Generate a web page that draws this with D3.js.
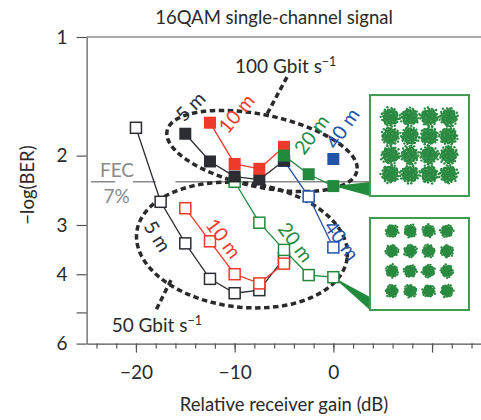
<!DOCTYPE html>
<html><head><meta charset="utf-8">
<script src="https://cdn.jsdelivr.net/npm/d3@7"></script>
<style>body{margin:0;background:#fff} svg{display:block} text{font-family:Lato,"Open Sans",sans-serif}</style>
</head><body><svg id="c" width="481" height="420"></svg>
<script>
// ---- data (gain in dB, value = -log(BER)) ----
const gain5_50 = [-20, -17.5, -15, -12.5, -10, -7.5, -5];
const ber5_50  = [1.70, 2.62, 3.34, 4.11, 4.47, 4.39, 3.64];
const gain10_50 = [-15, -12.5, -10, -7.5, -5];
const ber10_50  = [2.72, 3.30, 4.00, 4.22, 3.76];
const gain20_50 = [-10, -7.5, -5, -2.5, 0];
const ber20_50  = [2.33, 2.96, 3.47, 4.02, 4.07];
const gain40_50 = [-5, -2.5, 0];
const ber40_50  = [2.06, 2.54, 3.42];
const gain5_100 = [-15, -12.5, -10, -7.5, -5];
const ber5_100  = [1.76, 2.07, 2.26, 2.30, 2.06];
const gain10_100 = [-12.5, -10, -7.5, -5];
const ber10_100  = [1.65, 2.10, 2.16, 1.90];
const gain20_100 = [-5, -2.5, 0];
const ber20_100  = [2.00, 2.23, 2.39];
const gain40_100 = [0];
const ber40_100  = [2.04];
const fecLevel = 2.33;
const xMajorTicks = [-20, -10, 0, 10];
const xMajorLabels = ["\u221220", "\u221210", "0", ""];
const xMinorTicks = d3.range(-24, 15, 2);
const yTicks = [1, 2, 3, 4, 5, 6];
const yTickLabels = ["1", "2", "3", "4", "", "6"];
const constLevels = [-3, -1, 1, 3];

// ---- styles ----
const COL = {dark:"#2b2d33", red:"#ee3a2a", green:"#228a3c", blue:"#2253a8", axis:"#555", text:"#2a2a2a", fec:"#8a8a8a", box:"#3d9c52", dots:"#2a8a40"};

const svg = d3.select("#c");
const x = d3.scaleLinear().domain([-25, 15]).range([86.6, 481.4]);
const y = d3.scaleLog().domain([1, 6]).range([37, 343.6]);

// title
svg.append("text").attr("x", 274).attr("y", 24).attr("text-anchor","middle")
  .attr("font-size", 18.5).attr("fill", COL.text).text("16QAM single-channel signal");

// axes
const gy = svg.append("g").attr("transform", `translate(${x(-25)},0)`)
  .call(d3.axisLeft(y).tickValues(yTicks).tickFormat((d,i)=>yTickLabels[i]).tickSize(10).tickSizeOuter(0).tickPadding(9));
const gxm = svg.append("g").attr("transform", `translate(0,${y(6)})`)
  .call(d3.axisBottom(x).tickValues(xMinorTicks).tickFormat("").tickSize(5).tickSizeOuter(0));
const gxM = svg.append("g").attr("transform", `translate(0,${y(6)})`)
  .call(d3.axisBottom(x).tickValues(xMajorTicks).tickFormat((d,i)=>xMajorLabels[i]).tickSize(9).tickSizeOuter(0).tickPadding(13));
gxM.select(".domain").remove();
[gy, gxm, gxM].forEach(g => {
  g.selectAll("path,line").attr("stroke", COL.axis).attr("stroke-width", 1.2);
  g.selectAll("text").attr("font-size", 19).attr("fill", COL.text).attr("font-family","Lato");
});
svg.append("line").attr("x1", x(-25)).attr("x2", x(15)).attr("y1", y(1)).attr("y2", y(1))
  .attr("stroke", COL.axis).attr("stroke-width", 1.2);

svg.append("text").attr("x", (x(-25)+x(15))/2).attr("y", 411).attr("text-anchor","middle")
  .attr("font-size", 18.5).attr("fill", COL.text).text("Relative receiver gain (dB)");
svg.append("text").attr("transform", `translate(34,185) rotate(-90)`).attr("text-anchor","middle")
  .attr("font-size", 18.5).attr("fill", COL.text).text("\u2212log(BER)");

// FEC line
const fecSegs = [[-24.56, -22.1], [-20.3, -18.0], [-16.0, 3.71]];
fecSegs.forEach(s => svg.append("line").attr("x1", x(s[0])).attr("x2", x(s[1]))
  .attr("y1", y(fecLevel)).attr("y2", y(fecLevel)).attr("stroke", COL.fec).attr("stroke-width", 1.5));
svg.append("text").attr("x", x(-21.92)).attr("y", y(2.266)).attr("text-anchor","middle")
  .attr("font-size", 19).attr("fill", COL.fec).text("FEC");
svg.append("text").attr("x", x(-21.97)).attr("y", y(2.638)).attr("text-anchor","middle")
  .attr("font-size", 19).attr("fill", COL.fec).text("7%");

// dashed ellipses (center in data units, semi-axes in dB / decades, tilt in degrees)
const ellipses = [
  {cx:-7.23, cv:1.947, aDb:9.83, bDec:0.0914, tilt:12},
  {cx:-9.26, cv:3.373, aDb:10.74, bDec:0.1574, tilt:7}
];
ellipses.forEach(e => {
  const px = x(e.cx), py = y(e.cv);
  const a = x(e.cx + e.aDb) - px, b = y(e.cv * Math.pow(10, e.bDec)) - py;
  const th = e.tilt * Math.PI / 180;
  const pts = d3.range(0, 360, 3).map(t => {
    const r = t * Math.PI / 180;
    return [px + a*Math.cos(r)*Math.cos(th) - b*Math.sin(r)*Math.sin(th),
            py + a*Math.cos(r)*Math.sin(th) + b*Math.sin(r)*Math.cos(th)];
  });
  svg.append("path").attr("d", d3.line().curve(d3.curveLinearClosed)(pts))
    .attr("fill","none").attr("stroke","#2a2a2a").attr("stroke-width",3.5).attr("stroke-dasharray","5.5,3.5");
});
const pointers = [[[-4.70,1.264],[-6.82,1.586]], [[-16.45,4.14],[-18.07,4.99]]];
pointers.forEach(p => svg.append("line").attr("x1", x(p[0][0])).attr("y1", y(p[0][1]))
  .attr("x2", x(p[1][0])).attr("y2", y(p[1][1])).attr("stroke","#2a2a2a").attr("stroke-width",3.5)
  .attr("stroke-dasharray","5.5,3.5"));

// rate labels
function rateLabel(gx, v, main){
  const t = svg.append("text").attr("x", x(gx)).attr("y", y(v)).attr("font-size", 19).attr("fill", COL.text);
  t.append("tspan").text(main);
  t.append("tspan").attr("dy", -7).attr("font-size", 12.5).text("\u22121");
}
rateLabel(-9.96, 1.236, "100 Gbit s");
rateLabel(-22.46, 5.60, "50 Gbit s");

// inset boxes and wedges
const boxes = [
  {x0:3.71, x1:13.74, v0:1.404, v1:2.532, R:8.5, N:110, xd:[-5.1,5.1], yd:[5.3,-5.3]},
  {x0:3.71, x1:13.74, v0:2.88, v1:4.93, R:5.8, N:70, xd:[-5.4,5.4], yd:[4.3,-4.9]}
];
const wedges = [
  {apex:[0, 2.39], b0:2.334, b1:2.532},
  {apex:[0, 4.07], b0:4.57, b1:4.93}
];
wedges.forEach(w => svg.append("path")
  .attr("d", d3.line()([[x(w.apex[0]), y(w.apex[1])], [x(3.71), y(w.b0)], [x(3.71), y(w.b1)]]) + "Z")
  .attr("fill", COL.green));

// series
const series = [
  {g:gain5_50, v:ber5_50, c:COL.dark, f:false},
  {g:gain10_50, v:ber10_50, c:COL.red, f:false},
  {g:gain20_50, v:ber20_50, c:COL.green, f:false},
  {g:gain40_50, v:ber40_50, c:COL.blue, f:false},
  {g:gain5_100, v:ber5_100, c:COL.dark, f:true},
  {g:gain10_100, v:ber10_100, c:COL.red, f:true},
  {g:gain20_100, v:ber20_100, c:COL.green, f:true},
  {g:gain40_100, v:ber40_100, c:COL.blue, f:true}
];
const line = d3.line().x(d=>x(d[0])).y(d=>y(d[1]));
series.forEach(s => {
  const pts = s.g.map((g,i)=>[g, s.v[i]]);
  svg.append("path").attr("d", line(pts)).attr("fill","none").attr("stroke", s.c).attr("stroke-width", 1.3);
});
series.forEach(s => {
  const pts = s.g.map((g,i)=>[g, s.v[i]]);
  const sz = s.f ? 12 : 11;
  svg.selectAll(null).data(pts).enter().append("rect")
    .attr("x", d=>x(d[0])-sz/2).attr("y", d=>y(d[1])-sz/2).attr("width", sz).attr("height", sz)
    .attr("fill", s.f ? s.c : "#fff").attr("stroke", s.f ? "none" : s.c).attr("stroke-width", 1.5);
});

boxes.forEach(b => {
  const bx0 = x(b.x0), bx1 = x(b.x1), by0 = y(b.v0), by1 = y(b.v1);
  svg.append("rect").attr("x", bx0).attr("y", by0).attr("width", bx1-bx0).attr("height", by1-by0)
    .attr("fill","#fff").attr("stroke", COL.box).attr("stroke-width", 2);
  const ix = d3.scaleLinear().domain(b.xd).range([bx0, bx1]);
  const iy = d3.scaleLinear().domain(b.yd).range([by0, by1]);
  const g = svg.append("g").attr("fill", COL.dots);
  let k = 0;
  constLevels.forEach(qi => constLevels.forEach(ii => {
    k++;
    for (let i = 0; i < b.N; i++) {
      const r = b.R * Math.sqrt((i+0.5)/b.N) * (1 + 0.2*Math.sin(i*1.7 + k*2.3));
      const a = i * 2.39996 + k;
      g.append("circle").attr("cx", ix(ii) + r*Math.cos(a)).attr("cy", iy(qi) + r*Math.sin(a)).attr("r", 1.2);
    }
  }));
});

// distance labels
const distLabels = [
  {t:"5 m", g:-14.52, v:1.497, a:-45, c:COL.dark},
  {t:"10 m", g:-9.86, v:1.56, a:-50, c:COL.red},
  {t:"20 m", g:-2.26, v:1.763, a:-53, c:COL.green},
  {t:"40 m", g:0.88, v:1.702, a:-56, c:COL.blue},
  {t:"5 m", g:-17.77, v:3.20, a:58, c:COL.dark},
  {t:"10 m", g:-11.08, v:3.237, a:53, c:COL.red},
  {t:"20 m", g:-3.78, v:3.313, a:53, c:COL.green},
  {t:"40 m", g:0.88, v:3.275, a:53, c:COL.blue}
];
distLabels.forEach(d => svg.append("text")
  .attr("transform", `translate(${x(d.g)},${y(d.v)}) rotate(${d.a})`)
  .attr("text-anchor","middle").attr("dominant-baseline","central")
  .attr("font-size", 19.5).attr("fill", d.c).text(d.t));
</script></body></html>
